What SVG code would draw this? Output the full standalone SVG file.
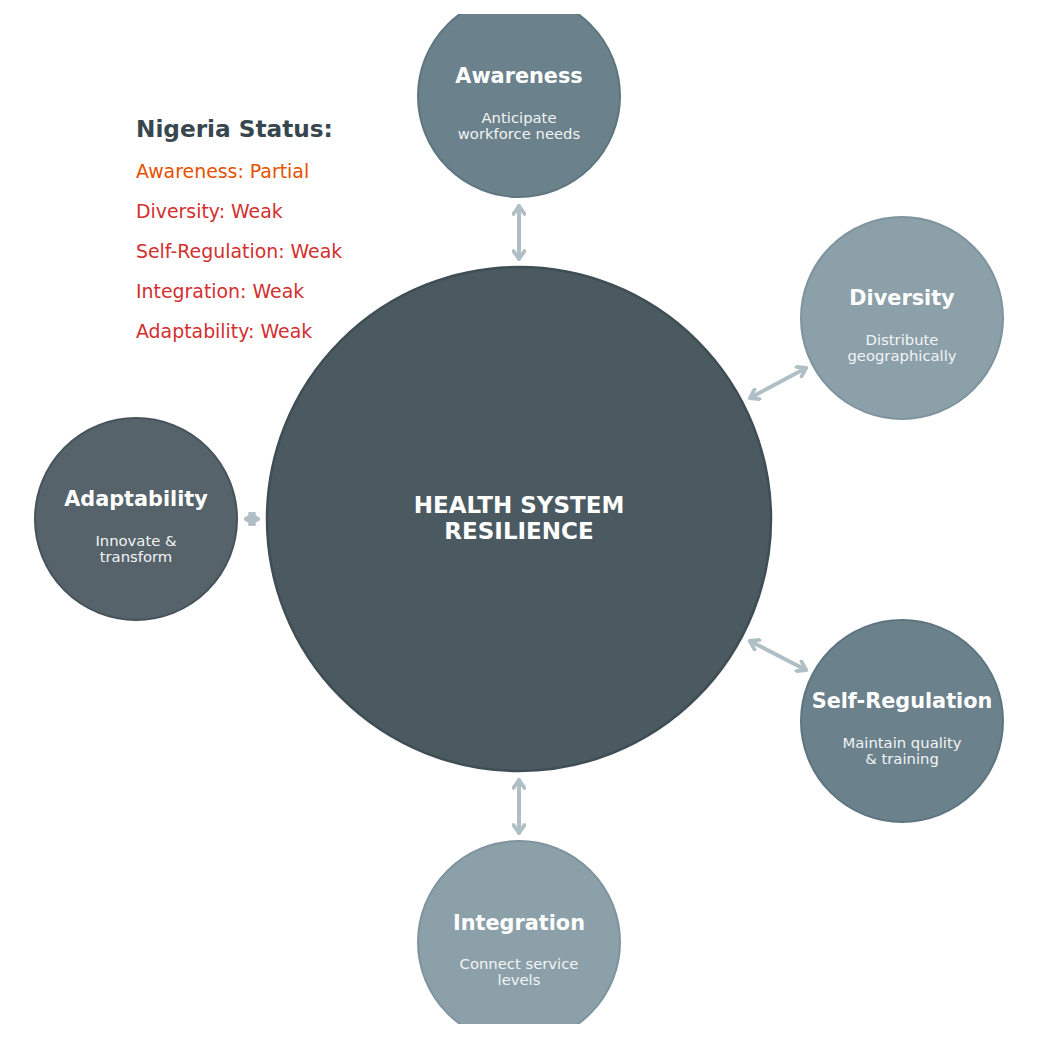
<svg xmlns="http://www.w3.org/2000/svg" width="1039" height="1039" viewBox="0 0 1039 1039">
<style>
.t{font-family:"DejaVu Sans",sans-serif;font-weight:bold;font-size:20.8px;fill:#ffffff;text-anchor:middle}
.s{font-family:"DejaVu Sans",sans-serif;font-size:14.8px;fill:#f2f4f5;text-anchor:middle}
.c{font-family:"DejaVu Sans",sans-serif;font-weight:bold;font-size:23px;fill:#ffffff;text-anchor:middle}
.h{font-family:"DejaVu Sans",sans-serif;font-weight:bold;font-size:23.2px;fill:#37474f}
.i{font-family:"DejaVu Sans",sans-serif;font-size:18.9px}
.a{fill:none;stroke:#b0bec5;stroke-width:4;stroke-linecap:round;marker-start:url(#ah);marker-end:url(#ah)}
</style>
<defs>
<clipPath id="cp"><rect x="0" y="14" width="1039" height="1010"/></clipPath>
<marker id="ah" viewBox="0 0 14 14" refX="11" refY="7" markerWidth="14" markerHeight="14" markerUnits="userSpaceOnUse" orient="auto-start-reverse">
<path d="M3,1.5 L11,7 L3,12.5" fill="none" stroke="#b0bec5" stroke-width="3.8" stroke-linecap="round" stroke-linejoin="round"/>
</marker>
</defs>
<rect width="1039" height="1039" fill="#ffffff"/>
<g clip-path="url(#cp)">
<g id="connectors">
<line class="a" x1="519" y1="206" x2="519" y2="259"/>
<line class="a" x1="750" y1="398" x2="806" y2="368"/>
<line class="a" x1="750" y1="641" x2="806" y2="670"/>
<line class="a" x1="519" y1="780" x2="519" y2="833"/>
<line class="a" x1="246" y1="519" x2="258" y2="519"/>
</g>
<g id="center">
<circle cx="519" cy="519" r="252" fill="#4b5a61" stroke="#3f4d54" stroke-width="2.5"/>
<text class="c" x="519" y="513">HEALTH SYSTEM</text>
<text class="c" x="519" y="538.5">RESILIENCE</text>
</g>
<g id="awareness">
<circle cx="519" cy="96" r="101" fill="#6b818b" stroke="#5e7580" stroke-width="2"/>
<text class="t" x="519" y="83">Awareness</text>
<text class="s" x="519" y="123">Anticipate</text>
<text class="s" x="519" y="139">workforce needs</text>
</g>
<g id="diversity">
<circle cx="902" cy="318" r="101" fill="#8ca0aa" stroke="#7e939d" stroke-width="2"/>
<text class="t" x="902" y="305">Diversity</text>
<text class="s" x="902" y="345">Distribute</text>
<text class="s" x="902" y="361">geographically</text>
</g>
<g id="self-regulation">
<circle cx="902" cy="721" r="101" fill="#6b818b" stroke="#5e7580" stroke-width="2"/>
<text class="t" x="902" y="708">Self-Regulation</text>
<text class="s" x="902" y="748">Maintain quality</text>
<text class="s" x="902" y="764">&amp; training</text>
</g>
<g id="integration">
<circle cx="519" cy="942" r="101" fill="#8ca0aa" stroke="#7e939d" stroke-width="2"/>
<text class="t" x="519" y="929.5">Integration</text>
<text class="s" x="519" y="969">Connect service</text>
<text class="s" x="519" y="985">levels</text>
</g>
<g id="adaptability">
<circle cx="136" cy="519" r="101" fill="#56636b" stroke="#46535a" stroke-width="2"/>
<text class="t" x="136" y="506">Adaptability</text>
<text class="s" x="136" y="546">Innovate &amp;</text>
<text class="s" x="136" y="562">transform</text>
</g>
<g id="status">
<text class="h" x="136" y="137">Nigeria Status:</text>
<text class="i" x="136" y="178" fill="#e65100">Awareness: Partial</text>
<text class="i" x="136" y="218" fill="#d32f2f">Diversity: Weak</text>
<text class="i" x="136" y="258" fill="#d32f2f">Self-Regulation: Weak</text>
<text class="i" x="136" y="298" fill="#d32f2f">Integration: Weak</text>
<text class="i" x="136" y="338" fill="#d32f2f">Adaptability: Weak</text>
</g>
</g>
</svg>
